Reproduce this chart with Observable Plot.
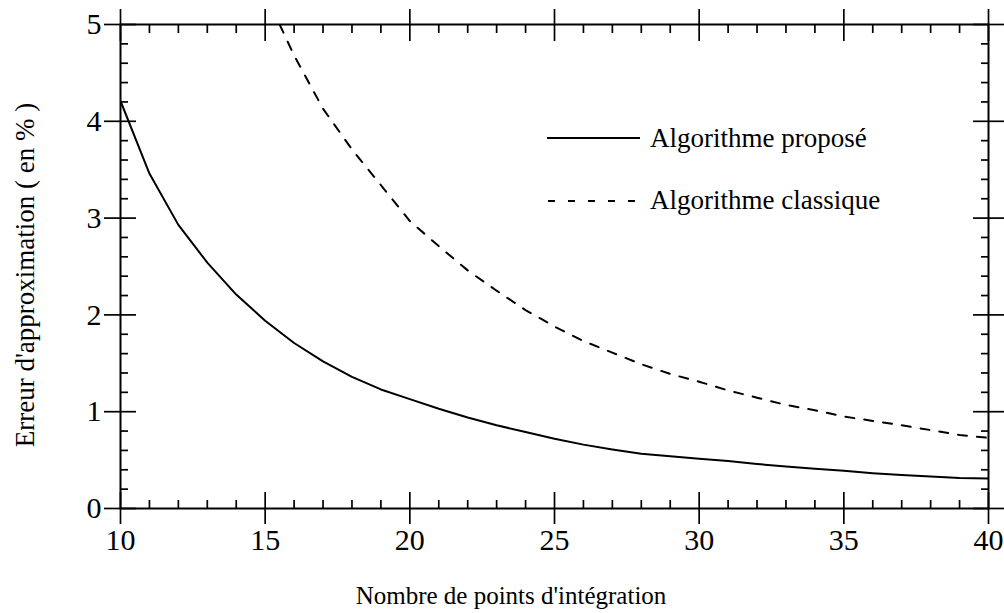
<!DOCTYPE html>
<html><head><meta charset="utf-8">
<script src="https://cdn.jsdelivr.net/npm/d3@7"></script>
<script src="https://cdn.jsdelivr.net/npm/@observablehq/plot@0.6"></script>
<style>
html,body{margin:0;padding:0;background:#fff;}
#wrap{position:relative;width:1004px;height:613px;font-family:"Liberation Serif","Times New Roman",serif;color:#000;}
.lab{position:absolute;white-space:nowrap;font-size:27px;line-height:1;}
.sw{position:absolute;}
</style></head><body><div id="wrap"></div>
<script>
// ---- data ----
const nProp   = [10,11,12,13,14,15,16,17,18,19,20,21,22,23,24,25,26,27,28,29,30,31,32,33,34,35,36,37,38,39,40];
const errProp = [4.21,3.46,2.93,2.54,2.21,1.94,1.71,1.52,1.36,1.23,1.13,1.03,0.94,0.86,0.79,0.72,0.66,0.61,0.565,0.54,0.515,0.49,0.46,0.435,0.41,0.39,0.365,0.345,0.33,0.315,0.31];
const nClass   = [15.5,16,17,18,19,20,21,22,23,24,25,26,27,28,29,30,31,32,33,34,35,36,37,38,39,40];
const errClass = [5.0,4.68,4.13,3.71,3.34,2.97,2.71,2.46,2.25,2.05,1.88,1.73,1.61,1.49,1.39,1.31,1.22,1.145,1.07,1.015,0.95,0.905,0.86,0.81,0.76,0.73];
const seriesNames = ["Algorithme proposé", "Algorithme classique"];
const xTitle = "Nombre de points d'intégration";
const yTitle = "Erreur d'approximation ( en % )";
const xMajor = [10,15,20,25,30,35,40];
const xMinor = d3.range(10, 41).filter(v => v % 5 !== 0);
const yMajor = [0,1,2,3,4,5];
const yMinor = d3.range(0, 26).filter(i => i % 5 !== 0).map(i => i / 5);

const propData  = nProp.map((n, i) => ({n, e: errProp[i]}));
const classData = nClass.map((n, i) => ({n, e: errClass[i]}));

const blank = () => "";
const num = d => String(d);
const tk = {stroke: "#000", strokeWidth: 1.7};

const chart = Plot.plot({
  width: 1004, height: 613,
  marginLeft: 120, marginRight: 16, marginTop: 24, marginBottom: 105,
  style: {fontFamily: "Liberation Serif, Times New Roman, serif", fontSize: "30px", color: "#000", background: "#fff"},
  x: {domain: [10, 40]},
  y: {domain: [0, 5]},
  marks: [
    Plot.line(propData,  {x: "n", y: "e", stroke: "#000", strokeWidth: 2, clip: true}),
    Plot.line(classData, {x: "n", y: "e", stroke: "#000", strokeWidth: 2, strokeDasharray: "9,10", clip: true}),
    Plot.axisX(xMajor, {anchor: "bottom", tickSize: 16, tickPadding: 4, tickFormat: num, label: null, fontSize: 30, ...tk}),
    Plot.axisX(xMajor, {anchor: "bottom", tickSize: -16, tickFormat: blank, label: null, ...tk}),
    Plot.axisX(xMajor, {anchor: "top", tickSize: 16, tickFormat: blank, label: null, ...tk}),
    Plot.axisX(xMajor, {anchor: "top", tickSize: -16, tickFormat: blank, label: null, ...tk}),
    Plot.axisX(xMinor, {anchor: "bottom", tickSize: -8, tickFormat: blank, label: null, ...tk}),
    Plot.axisX(xMinor, {anchor: "top", tickSize: -8, tickFormat: blank, label: null, ...tk}),
    Plot.axisY(yMajor, {anchor: "left", tickSize: 16, tickPadding: 3, tickFormat: num, label: null, fontSize: 30, ...tk}),
    Plot.axisY(yMajor, {anchor: "left", tickSize: -16, tickFormat: blank, label: null, ...tk}),
    Plot.axisY(yMajor, {anchor: "right", tickSize: 16, tickFormat: blank, label: null, ...tk}),
    Plot.axisY(yMajor, {anchor: "right", tickSize: -16, tickFormat: blank, label: null, ...tk}),
    Plot.axisY(yMinor, {anchor: "left", tickSize: -8, tickFormat: blank, label: null, ...tk}),
    Plot.axisY(yMinor, {anchor: "right", tickSize: -8, tickFormat: blank, label: null, ...tk}),
    Plot.frame({stroke: "#000", strokeWidth: 2})
  ]
});

const wrap = document.getElementById("wrap");
wrap.appendChild(chart);

// axis titles
const xt = document.createElement("div");
xt.className = "lab";
xt.style.fontSize = "25px";
xt.style.left = "511px"; xt.style.top = "583px";
xt.style.transform = "translateX(-50%)";
xt.textContent = xTitle;
wrap.appendChild(xt);

const yt = document.createElement("div");
yt.className = "lab";
yt.style.fontSize = "27px";
yt.style.left = "25px"; yt.style.top = "275px";
yt.style.transform = "translate(-50%,-50%) rotate(-90deg)";
yt.textContent = yTitle;
wrap.appendChild(yt);

// legend overlay
function addSwatch(top, len, dash) {
  const ns = "http://www.w3.org/2000/svg";
  const s = document.createElementNS(ns, "svg");
  s.setAttribute("class", "sw");
  s.setAttribute("width", 100); s.setAttribute("height", 10);
  s.style.left = "547px"; s.style.top = (top - 5) + "px";
  const l = document.createElementNS(ns, "line");
  l.setAttribute("x1", 0); l.setAttribute("x2", len);
  l.setAttribute("y1", 5); l.setAttribute("y2", 5);
  l.setAttribute("stroke", "#000"); l.setAttribute("stroke-width", 2);
  if (dash) { l.setAttribute("stroke-dasharray", "7,13"); l.setAttribute("stroke-dashoffset", "19"); }
  s.appendChild(l);
  wrap.appendChild(s);
}
function addLabel(text, top) {
  const d = document.createElement("div");
  d.className = "lab";
  d.style.left = "650px"; d.style.top = top + "px";
  d.textContent = text;
  wrap.appendChild(d);
}
addSwatch(138, 93, false);
addLabel(seriesNames[0], 125);
addSwatch(201, 89, true);
addLabel(seriesNames[1], 187);
</script>
</body></html>
